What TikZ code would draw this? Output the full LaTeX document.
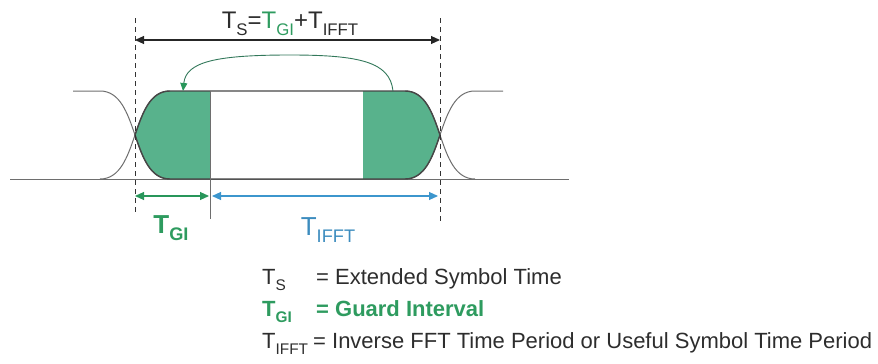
\documentclass[tikz,border=0pt]{standalone}
\usepackage{fontspec}
\setmainfont{Liberation Sans}
\usepackage{graphicx}
\usetikzlibrary{arrows.meta}
\definecolor{gfill}{RGB}{88,178,140}
\definecolor{gtext}{RGB}{46,155,95}
\definecolor{garrow}{RGB}{40,150,90}
\definecolor{barrow}{RGB}{60,150,205}
\definecolor{btext}{RGB}{60,140,190}
\definecolor{edgecol}{RGB}{70,70,70}
\definecolor{thincol}{RGB}{110,110,110}
\definecolor{txt}{RGB}{45,45,45}
\definecolor{curvecol}{RGB}{50,120,90}
\newcommand\lsub[1]{\raisebox{-0.3em}{\scalebox{0.7}{#1}}}
\begin{document}
\begin{tikzpicture}[x=1pt,y=-1pt,
  guide/.style={black!80,line width=0.8pt,dash pattern=on 5pt off 4pt},
  outer/.style={thincol,line width=1pt},
  edgeline/.style={edgecol,line width=1.4pt},
  dimarrow/.style={line width=1.1pt,{Triangle[length=9pt,width=8pt]}-{Triangle[length=9pt,width=8pt]}},
  lbl/.style={inner sep=0pt,anchor=base west,text=txt},
]
\useasboundingbox (0,0) rectangle (878,364);
% fills
\fill[gfill] (135,135) .. controls (142.5,113) and (150,91) .. (170,91) -- (210,91) -- (210,179) -- (170,179) .. controls (150,179) and (142.5,157) .. (135,135) -- cycle;
\fill[gfill] (363,91) -- (405,91) .. controls (425,91) and (432.5,113) .. (440,135) .. controls (432.5,157) and (425,179) .. (405,179) -- (363,179) -- cycle;
% outer transitions
\draw[outer] (73,91) -- (100,91) .. controls (140,91) and (130,179) .. (170,179);
\draw[outer] (100,179) .. controls (140,179) and (130,91) .. (170,91);
\draw[outer] (10,179) -- (569,179);
\draw[outer] (405,91) .. controls (445,91) and (435,179) .. (475,179);
\draw[outer] (405,179) .. controls (445,179) and (435,91) .. (475,91) -- (503,91);
% symbol outline
\draw[edgeline] (135,135) .. controls (142.5,113) and (150,91) .. (170,91) -- (405,91) .. controls (425,91) and (432.5,113) .. (440,135);
\draw[edgeline] (135,135) .. controls (142.5,157) and (150,179) .. (170,179) -- (405,179) .. controls (425,179) and (432.5,157) .. (440,135);
\draw[thincol,line width=0.9pt] (210,91) -- (210,219);
% guides
\draw[guide] (135,18) -- (135,215);
\draw[guide] (440,18) -- (440,222);
% dimension arrows
\coordinate (tsL) at (135,40);
\coordinate (tsR) at (440,40);
\draw[dimarrow,black!85] (tsL) -- (tsR);
\coordinate (gL) at (135,196);
\coordinate (gR) at (209,196);
\draw[dimarrow,garrow] (gL) -- (gR);
\coordinate (bL) at (212,196);
\coordinate (bR) at (438,196);
\draw[dimarrow,barrow] (bL) -- (bR);
% copy arrow
\coordinate (cpS) at (393,91);
\coordinate (cpE) at (183,91);
\draw[curvecol,line width=0.9pt,-{Triangle[length=8pt,width=7pt,fill=garrow,color=garrow]}] (cpS) .. controls (390,62) and (360,55) .. (290,55) .. controls (215,55) and (186,62) .. (cpE);
% labels
\node[inner sep=0pt,anchor=base,text=txt] (title) at (290,28) {\fontsize{24}{28}\selectfont T\lsub{S}=\textcolor{gtext}{T\lsub{GI}}+T\lsub{IFFT}};
\node[inner sep=0pt,anchor=base,text=gtext] (tgi) at (171,233) {\fontsize{26}{30}\selectfont\bfseries T\lsub{GI}};
\node[inner sep=0pt,anchor=base,text=btext] (tifft) at (328,235) {\fontsize{26}{30}\selectfont T\lsub{IFFT}};
% legend
\node[lbl] (l1a) at (262,284) {\fontsize{22}{26}\selectfont T\lsub{S}};
\node[lbl] (l1b) at (316,284) {\fontsize{22}{26}\selectfont = Extended Symbol Time};
\node[lbl,text=gtext] (l2a) at (262,316) {\fontsize{22}{26}\selectfont\bfseries T\lsub{GI}};
\node[lbl,text=gtext] (l2b) at (316,316) {\fontsize{22}{26}\selectfont\bfseries = Guard Interval};
\node[lbl] (l3a) at (262,348) {\fontsize{22}{26}\selectfont T\lsub{IFFT}};
\node[lbl] (l3b) at (313,348) {\fontsize{22}{26}\selectfont = Inverse FFT Time Period or Useful Symbol Time Period};
\end{tikzpicture}
\end{document}
